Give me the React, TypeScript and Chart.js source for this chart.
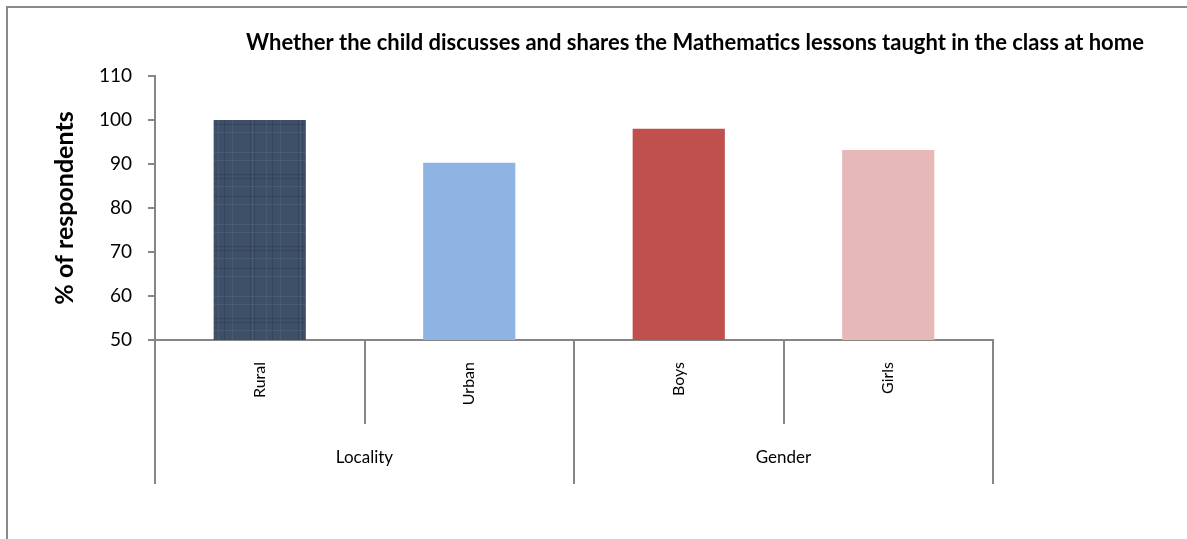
import React, { useEffect, useRef } from "react";
import { Chart, registerables } from "chart.js";

Chart.register(...registerables);

// ---- data ----
const categories = ["Rural", "Urban", "Boys", "Girls"];
const groupNames = ["Locality", "Gender"];
const groupSizes = [2, 2];
const respondentShare = [100, 90.3, 98, 93.2];
const barColors = ["#3E5068", "#8EB4E3", "#C0504D", "#E6B9B8"];
const yTickValues = [50, 60, 70, 80, 90, 100, 110];

const chartTitle =
  "Whether the child discusses and shares the Mathematics lessons taught in the class at home";
const yAxisTitle = "% of respondents";

// ---- styling ----
const FONT = "Lato, 'Open Sans', 'DejaVu Sans', sans-serif";
const AXIS_GREY = "#868686";
const FRAME_GREY = "#8a8a8a";

// Woven-looking fill used for the first bar.
function plaidFill(base: string): CanvasPattern | string {
  const tile = document.createElement("canvas");
  tile.width = 48;
  tile.height = 72;
  const c = tile.getContext("2d");
  if (!c) return base;
  c.fillStyle = base;
  c.fillRect(0, 0, 48, 72);
  c.fillStyle = "rgba(40, 55, 75, 0.45)";
  [10, 14, 32].forEach((x) => c.fillRect(x, 0, 1, 72));
  [30, 34, 52].forEach((y) => c.fillRect(0, y, 48, 1));
  c.fillStyle = "rgba(110, 130, 155, 0.22)";
  [12, 26, 40].forEach((x) => c.fillRect(x, 0, 1, 72));
  [8, 16, 42, 60].forEach((y) => c.fillRect(0, y, 48, 1));
  return c.createPattern(tile, "repeat") || base;
}

// Frame, title and the two-level category axis below the plot.
const groupedAxisPlugin = {
  id: "groupedAxis",
  beforeDraw(chart: any) {
    const ctx = chart.ctx as CanvasRenderingContext2D;
    ctx.save();
    ctx.fillStyle = "#ffffff";
    ctx.fillRect(0, 0, chart.width, chart.height);
    ctx.strokeStyle = FRAME_GREY;
    ctx.lineWidth = 2;
    ctx.beginPath();
    ctx.moveTo(7, chart.height);
    ctx.lineTo(7, 7);
    ctx.lineTo(chart.width, 7);
    ctx.stroke();
    ctx.restore();
  },
  afterDraw(chart: any) {
    const ctx = chart.ctx as CanvasRenderingContext2D;
    const xs = chart.scales.x;
    const area = chart.chartArea;
    const half = (xs.getPixelForValue(1) - xs.getPixelForValue(0)) / 2;
    const base = area.bottom;
    const catRowBottom = base + 84;
    const groupRowBottom = base + 144;

    ctx.save();

    // title
    ctx.fillStyle = "#000";
    ctx.font = `bold 22px ${FONT}`;
    ctx.textAlign = "center";
    ctx.textBaseline = "middle";
    ctx.fillText(chartTitle, 695, 43);

    // separators
    ctx.strokeStyle = AXIS_GREY;
    ctx.lineWidth = 2;
    let idx = 0;
    const groupEdges = new Set<number>([0]);
    groupSizes.forEach((n) => {
      idx += n;
      groupEdges.add(idx);
    });
    for (let i = 0; i <= categories.length; i++) {
      const px = Math.round(
        i < categories.length ? xs.getPixelForValue(i) - half : xs.getPixelForValue(i - 1) + half
      );
      ctx.beginPath();
      ctx.moveTo(px, base);
      ctx.lineTo(px, groupEdges.has(i) ? groupRowBottom : catRowBottom);
      ctx.stroke();
    }

    // category labels (rotated)
    ctx.fillStyle = "#000";
    ctx.font = `16px ${FONT}`;
    ctx.textAlign = "right";
    ctx.textBaseline = "middle";
    categories.forEach((label, i) => {
      ctx.save();
      ctx.translate(xs.getPixelForValue(i), base + 22);
      ctx.rotate(-Math.PI / 2);
      ctx.fillText(label, 0, 0);
      ctx.restore();
    });

    // group labels
    ctx.font = `17px ${FONT}`;
    ctx.textAlign = "center";
    let start = 0;
    groupNames.forEach((name, g) => {
      const end = start + groupSizes[g] - 1;
      const left = xs.getPixelForValue(start) - half;
      const right = xs.getPixelForValue(end) + half;
      ctx.fillText(name, (left + right) / 2, base + 118);
      start = end + 1;
    });

    ctx.restore();
  },
};

export default function App() {
  const canvasRef = useRef<HTMLCanvasElement | null>(null);

  useEffect(() => {
    const canvas = canvasRef.current;
    if (!canvas) return;
    const fills = barColors.map((c, i) => (i === 0 ? plaidFill(c) : c));

    const chart = new Chart(canvas, {
      type: "bar",
      data: {
        labels: categories,
        datasets: [
          {
            data: respondentShare,
            backgroundColor: fills as any,
            borderWidth: 0,
            barPercentage: 0.44,
            categoryPercentage: 1,
          },
        ],
      },
      options: {
        animation: false,
        responsive: false,
        devicePixelRatio: 1,
        layout: { padding: { left: 40, top: 76, right: 194, bottom: 199 } },
        plugins: {
          legend: { display: false },
          title: { display: false },
          tooltip: { enabled: false },
        },
        scales: {
          x: {
            offset: true,
            grid: { display: false },
            ticks: { display: false },
            border: { display: true, color: AXIS_GREY, width: 2 },
            afterFit: (s: any) => {
              s.height = 0;
            },
          },
          y: {
            min: 50,
            max: 110,
            afterBuildTicks: (s: any) => {
              s.ticks = yTickValues.map((v) => ({ value: v }));
            },
            ticks: {
              color: "#000",
              padding: 16,
              font: { family: FONT, size: 19 },
            },
            grid: {
              drawOnChartArea: false,
              drawTicks: true,
              tickLength: 7,
              color: AXIS_GREY,
              lineWidth: 2,
            },
            border: { display: true, color: AXIS_GREY, width: 2 },
            title: {
              display: true,
              text: yAxisTitle,
              color: "#000",
              font: { family: FONT, size: 25, weight: "bold" },
              padding: { top: 10, bottom: 0 },
            },
            afterFit: (s: any) => {
              s.width = 115;
            },
          },
        },
      },
      plugins: [groupedAxisPlugin],
    });

    return () => chart.destroy();
  }, []);

  return (
    <div style={{ position: "absolute", left: 0, top: 0, width: 1187, height: 539, background: "#fff" }}>
      <canvas ref={canvasRef} width={1187} height={539} style={{ width: 1187, height: 539, display: "block" }} />
    </div>
  );
}
